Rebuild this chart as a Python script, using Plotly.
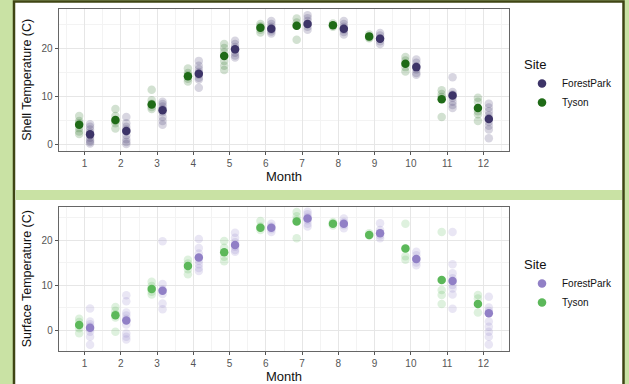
import plotly.graph_objects as go

# ---------------- data ----------------
months = list(range(1, 13))
month_ticks = [str(m) for m in months]
y_ticks = [0, 10, 20]
sites = ["ForestPark", "Tyson"]

# Shell temperature raw observations per month
shell_tyson_raw = [
    [6.0, 5.0, 4.5, 3.5, 2.8, 2.3],
    [7.5, 6.0, 5.0, 4.5, 3.4],
    [11.5, 9.3, 8.6, 7.9, 7.5],
    [15.9, 15.0, 14.5, 13.8, 13.2],
    [21.0, 20.2, 19.3, 17.5, 16.5, 15.6],
    [25.2, 24.7, 24.0, 23.4],
    [26.3, 25.5, 24.8, 21.9],
    [25.3, 24.6],
    [23.0, 22.4, 22.2],
    [18.3, 17.6, 16.2, 15.3],
    [11.4, 10.6, 10.0, 5.8],
    [9.8, 9.0, 7.0, 6.4, 5.0],
]
shell_fp_raw = [
    [4.3, 3.8, 3.2, 2.6, 2.0, 1.5, 1.0, 0.6, 0.3],
    [5.8, 4.5, 3.8, 3.2, 2.8, 2.0, 1.2, 0.6, 0.2],
    [9.0, 8.5, 8.0, 7.5, 6.8, 5.8, 5.0, 4.2],
    [17.5, 16.5, 15.8, 15.2, 14.6, 14.0, 13.6, 11.9],
    [21.7, 21.0, 20.4, 19.8, 19.2, 18.6, 18.2],
    [25.8, 25.2, 24.6, 24.0, 23.6, 23.2],
    [27.0, 26.4, 25.8, 25.2, 24.6, 24.0],
    [25.8, 25.2, 24.6, 24.0, 23.5, 23.0],
    [23.3, 22.8, 22.2, 21.6, 21.0],
    [17.8, 17.1, 16.4, 15.7, 15.0, 14.6],
    [14.1, 11.0, 10.5, 9.8, 9.0, 8.3, 7.7],
    [8.6, 7.8, 7.0, 6.2, 5.6, 4.8, 4.0, 3.2, 1.4],
]
shell_tyson_mean = [4.2, 5.2, 8.4, 14.3, 18.5, 24.4, 24.8, 24.9, 22.6, 16.9, 9.5, 7.7]
shell_fp_mean = [2.2, 2.9, 7.2, 14.8, 19.9, 24.2, 25.2, 24.2, 22.1, 16.2, 10.3, 5.4]

# Surface temperature raw observations per month
surf_tyson_raw = [
    [2.5, 1.8, 0.4, -0.7],
    [5.1, 4.3, 3.5, 2.8, -0.4],
    [10.7, 9.8, 8.5, 7.9],
    [15.6, 14.8, 13.5, 12.4],
    [19.8, 18.3, 16.3, 15.3],
    [24.2, 23.0, 22.2],
    [26.2, 25.3, 24.5, 20.4],
    [24.0, 23.2],
    [21.5, 21.0],
    [23.6, 16.4, 15.6],
    [21.8, 8.9, 7.8, 5.8],
    [7.8, 7.0, 3.9],
]
surf_fp_raw = [
    [4.8, 1.9, 1.3, 0.8, 0.2, -0.4, -1.5, -3.3],
    [7.7, 6.4, 3.9, 3.2, 2.5, 1.2, -0.8, -1.5, -2.1],
    [19.7, 10.2, 9.0, 8.0, 5.9, 4.6],
    [20.2, 18.2, 17.0, 15.4, 14.6, 13.8, 13.1],
    [21.6, 20.5, 19.5, 18.5, 17.8, 17.4],
    [23.6, 23.0, 22.4, 21.8],
    [26.3, 25.7, 25.1, 24.4, 23.6, 23.0],
    [24.8, 24.0, 23.3, 22.6],
    [23.7, 22.2, 21.6, 21.0, 20.4],
    [17.4, 16.6, 15.8, 15.0, 14.4],
    [21.8, 14.6, 12.6, 11.5, 10.0, 9.2, 7.9, 4.7],
    [7.4, 5.0, 4.2, 1.9, 0.7, -0.4, -1.5, -3.2],
]
surf_tyson_mean = [1.1, 3.3, 9.1, 14.2, 17.3, 22.7, 24.1, 23.6, 21.1, 18.1, 11.1, 5.8]
surf_fp_mean = [0.5, 2.1, 8.7, 16.1, 18.9, 22.7, 24.8, 23.6, 21.5, 15.8, 10.9, 3.7]

# ---------------- style ----------------
W, H = 629, 384
DODGE = {"ForestPark": 0.15, "Tyson": -0.15}
shell_colors = {"ForestPark": "#3d3468", "Tyson": "#1f6b17"}
surf_colors = {"ForestPark": "#9180c6", "Tyson": "#5cb85a"}


def flatten(raw):
    xs, ys = [], []
    for m, vals in zip(months, raw):
        for v in vals:
            xs.append(m)
            ys.append(v)
    return xs, ys


fig = go.Figure()

panels = [
    ("x", "y", {"ForestPark": (shell_fp_raw, shell_fp_mean), "Tyson": (shell_tyson_raw, shell_tyson_mean)}, shell_colors, "legend"),
    ("x2", "y2", {"ForestPark": (surf_fp_raw, surf_fp_mean), "Tyson": (surf_tyson_raw, surf_tyson_mean)}, surf_colors, "legend2"),
]

for xa, ya, data, colors, leg in panels:
    for site in sites:
        raw, mean = data[site]
        xs, ys = flatten(raw)
        fig.add_trace(go.Scatter(
            x=[x + DODGE[site] for x in xs], y=ys, mode="markers",
            xaxis=xa, yaxis=ya, showlegend=False, hoverinfo="skip",
            marker=dict(size=8.5, color=colors[site], opacity=0.2, line=dict(width=0)),
        ))
    for site in sites:
        raw, mean = data[site]
        fig.add_trace(go.Scatter(
            x=[m + DODGE[site] for m in months], y=mean, mode="markers",
            xaxis=xa, yaxis=ya, name=site, legend=leg,
            marker=dict(size=8.5, color=colors[site], opacity=1, line=dict(width=0)),
        ))

px = lambda v: v / W
py = lambda v: 1 - v / H

x_dom = [px(58.7), px(509.3)]
grid_major = "#e6e6e6"
grid_minor = "#f3f3f3"
font_fam = "Liberation Sans, Arial, sans-serif"

common_x = dict(
    domain=x_dom, range=[0.285, 12.715], tickmode="array", tickvals=months, ticktext=month_ticks,
    showgrid=True, gridcolor=grid_major, gridwidth=1,
    minor=dict(tick0=0.5, dtick=1, showgrid=True, gridcolor=grid_minor, gridwidth=0.8, ticks=""),
    showline=True, linecolor="#666666", linewidth=1, mirror=True,
    ticks="outside", ticklen=3, tickcolor="#555555", tickwidth=1,
    tickfont=dict(size=10, color="#555555", family=font_fam),
    zeroline=False, automargin=False,
    title=dict(text="Month", font=dict(size=13, color="#111111", family=font_fam), standoff=4),
)
common_y = dict(
    tickmode="array", tickvals=y_ticks,
    showgrid=True, gridcolor=grid_major, gridwidth=1,
    minor=dict(tick0=5, dtick=10, showgrid=True, gridcolor=grid_minor, gridwidth=0.8, ticks=""),
    showline=True, linecolor="#666666", linewidth=1, mirror=True,
    ticks="outside", ticklen=3, tickcolor="#555555", tickwidth=1,
    tickfont=dict(size=10, color="#555555", family=font_fam),
    zeroline=False, automargin=False,
)

fig.update_layout(
    width=W, height=H,
    margin=dict(l=0, r=0, t=0, b=0, autoexpand=False),
    paper_bgcolor="#c9e2a4",
    plot_bgcolor="white",
    font=dict(family=font_fam),
    xaxis=dict(common_x, anchor="y"),
    yaxis=dict(common_y, domain=[py(150.7), py(9)], range=[-1.2, 28.3], anchor="x",
               title=dict(text="Shell Temperature (C)", font=dict(size=12.5, color="#111111", family=font_fam), standoff=7)),
    xaxis2=dict(common_x, anchor="y2"),
    yaxis2=dict(common_y, domain=[py(350.7), py(206.7)], range=[-4.6, 27.4], anchor="x2",
                title=dict(text="Surface Temperature (C)", font=dict(size=12.5, color="#111111", family=font_fam), standoff=7)),
    legend=dict(
        x=px(522), y=py(52), xanchor="left", yanchor="top",
        bgcolor="rgba(0,0,0,0)", title=dict(text="Site", font=dict(size=13, color="#111111")),
        font=dict(size=10, color="#111111"), itemwidth=30, tracegroupgap=0,
    ),
    legend2=dict(
        x=px(522), y=py(252), xanchor="left", yanchor="top",
        bgcolor="rgba(0,0,0,0)", title=dict(text="Site", font=dict(size=13, color="#111111")),
        font=dict(size=10, color="#111111"), itemwidth=30, tracegroupgap=0,
    ),
    shapes=[
        dict(type="rect", xref="paper", yref="paper", x0=px(14), x1=px(623.5), y0=py(395), y1=py(1.5),
             fillcolor="white", line=dict(color="#3f4514", width=2.5), layer="below"),
        dict(type="rect", xref="paper", yref="paper", x0=px(15.5), x1=px(622), y0=py(200), y1=py(190),
             fillcolor="#c9e2a4", line=dict(width=0), layer="below"),
    ],
)

fig.write_html(
    "out.html",
    config={"displayModeBar": False},
    post_script="document.body.style.margin='0';document.body.style.overflow='hidden';",
)
